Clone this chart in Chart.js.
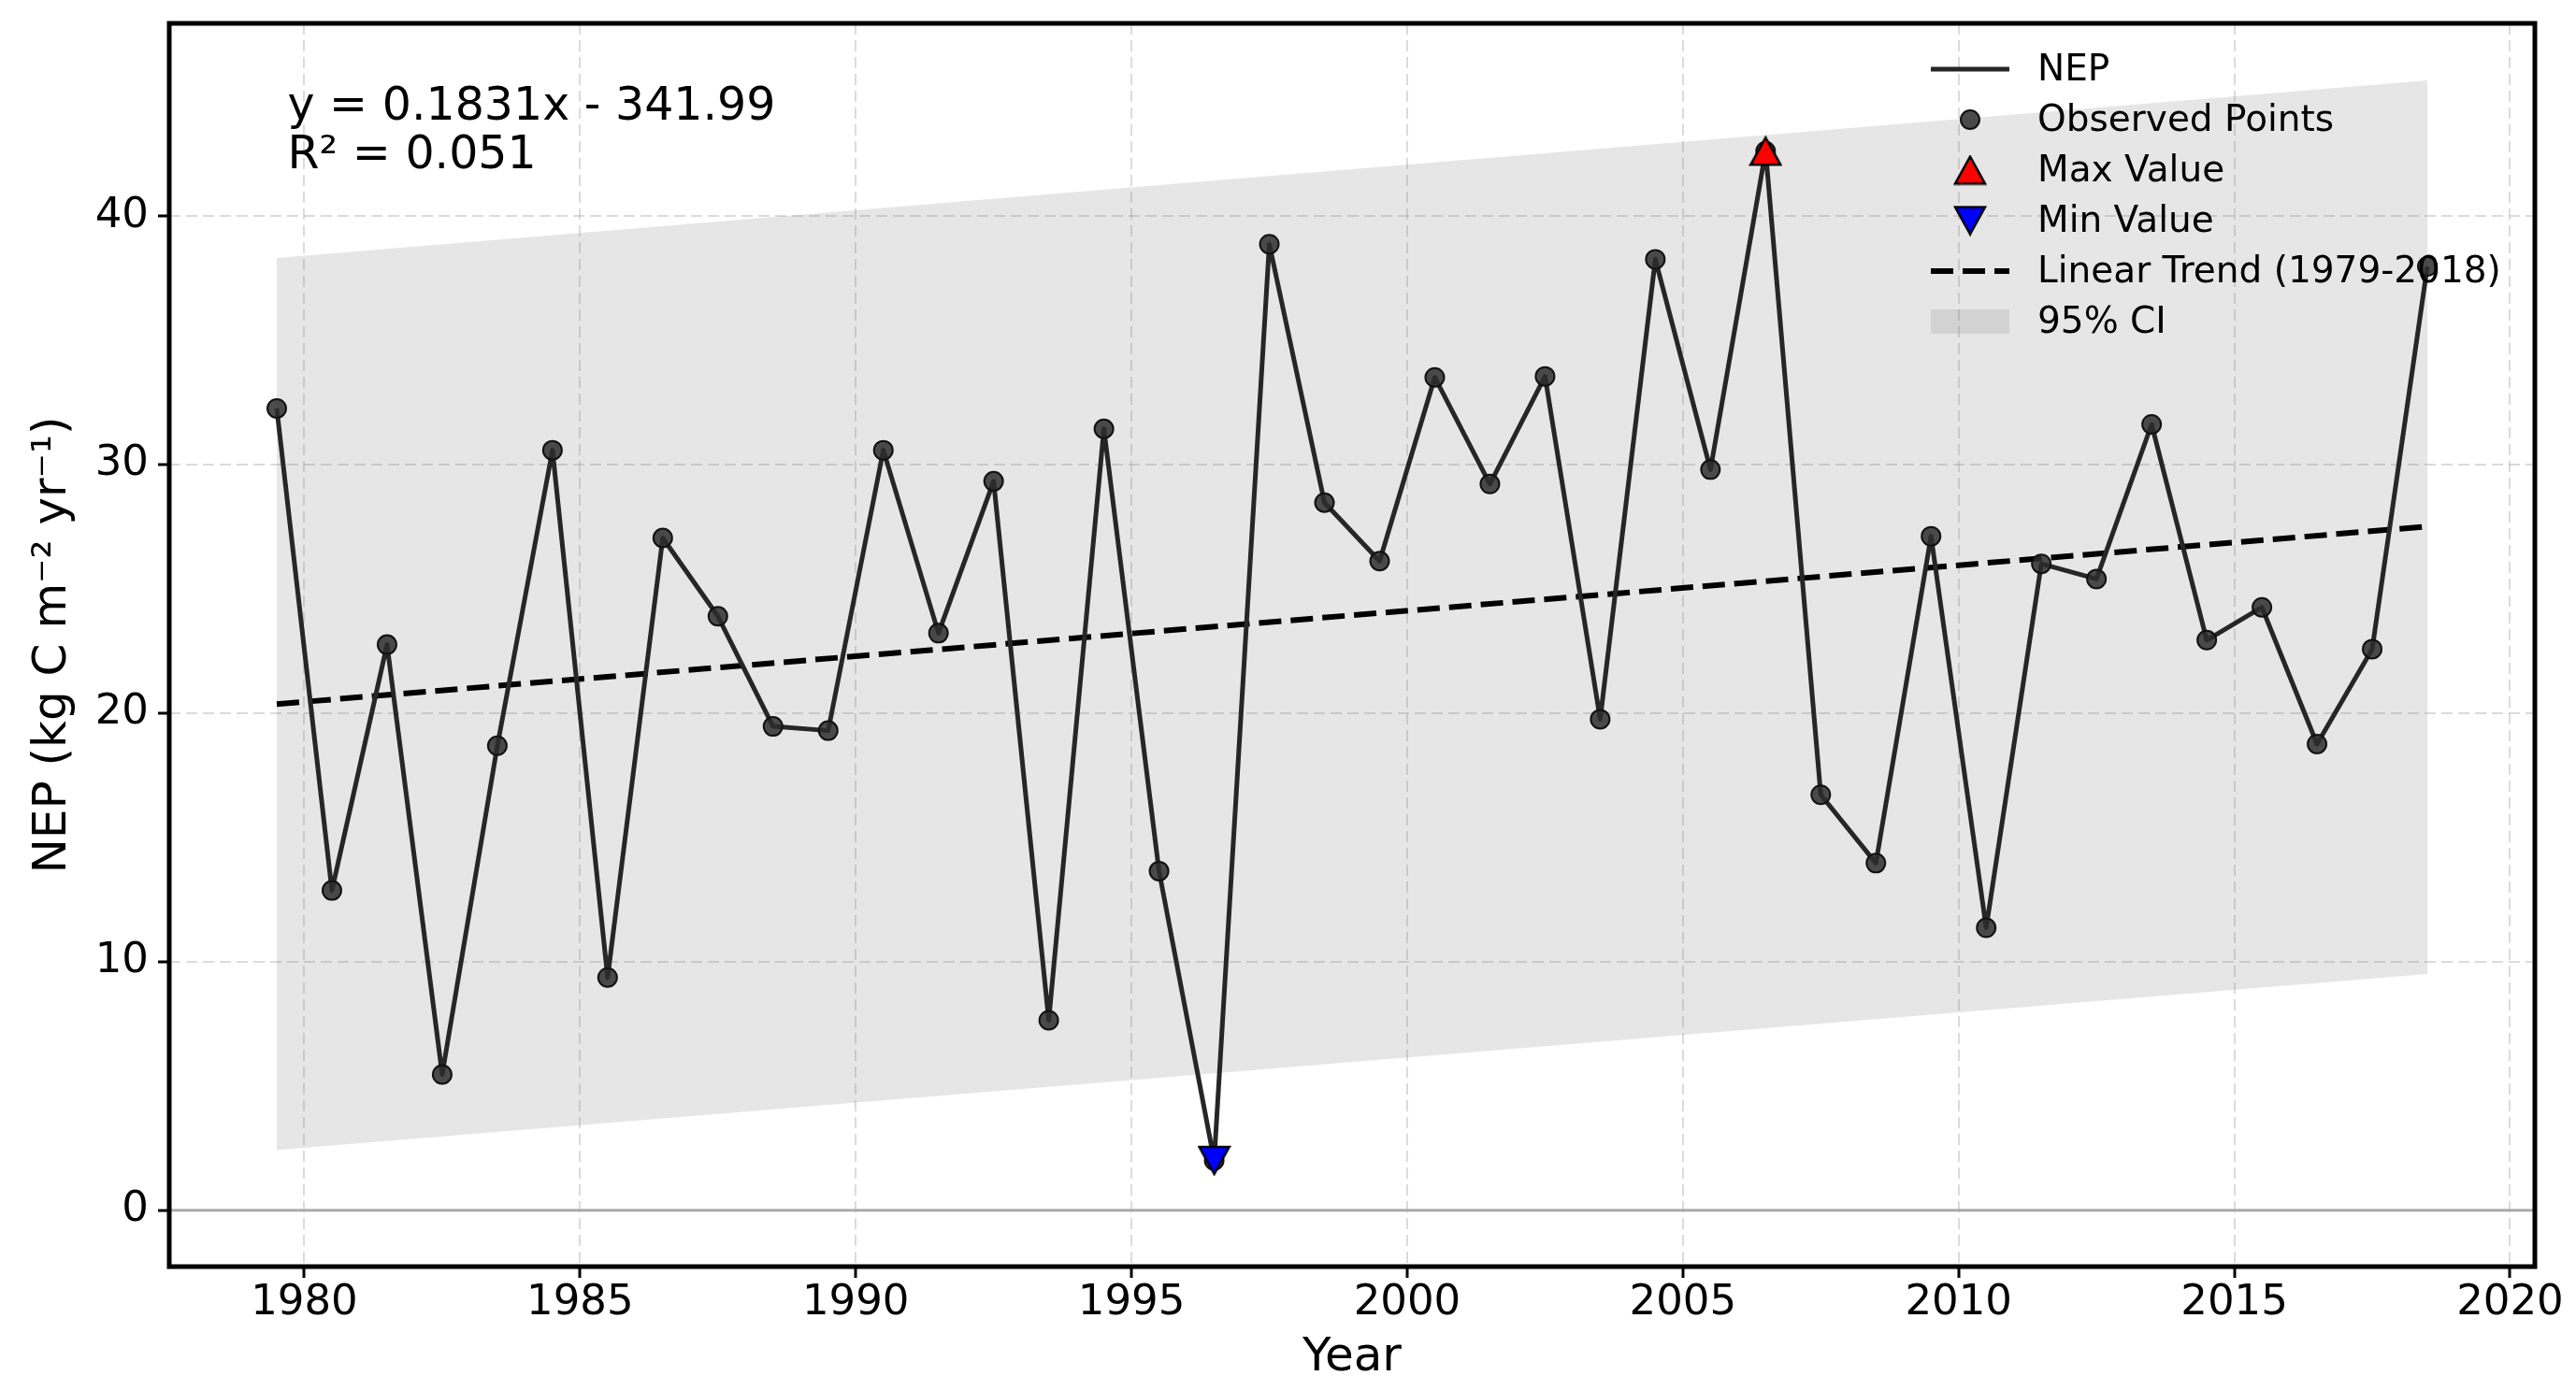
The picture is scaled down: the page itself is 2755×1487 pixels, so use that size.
<!DOCTYPE html>
<html>
<head>
<meta charset="utf-8">
<title>NEP 1979-2018</title>
<script src="https://cdn.jsdelivr.net/npm/chart.js@4.4.1/dist/chart.umd.min.js"></script>
<style>
    html, body { margin: 0; padding: 0; background: #fff; }
    #wrap { width: 2755px; height: 1487px; }
</style>
</head>
<body>
<div id="wrap"><canvas id="nepChart" width="2755" height="1487"></canvas></div>
<script>
// Data
const years = [
    1979, 1980, 1981, 1982, 1983, 1984, 1985, 1986, 1987, 1988,
    1989, 1990, 1991, 1992, 1993, 1994, 1995, 1996, 1997, 1998,
    1999, 2000, 2001, 2002, 2003, 2004, 2005, 2006, 2007, 2008,
    2009, 2010, 2011, 2012, 2013, 2014, 2015, 2016, 2017, 2018
];
const nepValues = [
    32.25, 12.86, 22.75, 5.46, 18.68, 30.57, 9.36, 27.04, 23.89, 19.46,
    19.29, 30.57, 23.21, 29.32, 7.64, 31.43, 13.64, 2.0, 38.86, 28.46,
    26.11, 33.5, 29.21, 33.54, 19.75, 38.25, 29.79, 42.6, 16.71, 13.96,
    27.11, 11.36, 26.0, 25.39, 31.61, 22.93, 24.25, 18.75, 22.57, 37.96
];
// trend and 95% CI band at the first and last year
const trendYears = [1979, 2018];
const trendValues = [20.36, 27.5];
const ciUpper = [38.3, 45.45];
const ciLower = [2.42, 9.5];

const xTicks = [1980, 1985, 1990, 1995, 2000, 2005, 2010, 2015, 2020];
const yTicks = [0, 10, 20, 30, 40];
const xLimits = [1977.55, 2020.45];
const yLimits = [-2.27, 47.74];

const equationLines = ['y = 0.1831x - 341.99', 'R\u00b2 = 0.051'];
const legendLabels = ['NEP', 'Observed Points', 'Max Value', 'Min Value', 'Linear Trend (1979-2018)', '95% CI'];

// points sit at mid-year
const midYear = yr => yr + 0.5;

const FONT = 'DejaVu Sans';
const lineColor = '#262626';
const pointFill = 'rgba(45, 45, 45, 0.85)';
const bandColor = 'rgba(128, 128, 128, 0.2)';
const gridColor = 'rgba(176, 176, 176, 0.45)';

function triangleMarker(fill, up) {
    const c = document.createElement('canvas');
    c.width = 36;
    c.height = 33;
    const g = c.getContext('2d');
    g.beginPath();
    if (up) {
        g.moveTo(18, 2); g.lineTo(2, 31); g.lineTo(34, 31);
    } else {
        g.moveTo(18, 31); g.lineTo(2, 2); g.lineTo(34, 2);
    }
    g.closePath();
    g.fillStyle = fill;
    g.fill();
    g.lineWidth = 2.5;
    g.strokeStyle = '#000';
    g.stroke();
    return c;
}

const maxMarker = triangleMarker('#ff0000', true);
const minMarker = triangleMarker('#0000ff', false);

const iMax = nepValues.indexOf(Math.max(...nepValues));
const iMin = nepValues.indexOf(Math.min(...nepValues));

const toPoints = (xs, ys) => xs.map((yr, i) => ({ x: midYear(yr), y: ys[i] }));

// keep the plot box where the layout padding puts it
const noScalePadding = axis => {
    axis.paddingTop = 0;
    axis.paddingBottom = 0;
    axis.paddingLeft = 0;
    axis.paddingRight = 0;
};

// background, zero line, frame, equation and legend
const decorations = {
    id: 'decorations',
    beforeDraw(chart) {
        const { ctx } = chart;
        ctx.save();
        ctx.fillStyle = '#fff';
        ctx.fillRect(0, 0, chart.width, chart.height);
        ctx.restore();
    },
    beforeDatasetsDraw(chart) {
        const { ctx, chartArea, scales } = chart;
        const y0 = scales.y.getPixelForValue(0);
        ctx.save();
        ctx.strokeStyle = '#ababab';
        ctx.lineWidth = 3;
        ctx.beginPath();
        ctx.moveTo(chartArea.left, y0);
        ctx.lineTo(chartArea.right, y0);
        ctx.stroke();
        ctx.restore();
    },
    afterDatasetsDraw(chart) {
        const { ctx, chartArea } = chart;
        const w = chartArea.right - chartArea.left;
        const h = chartArea.bottom - chartArea.top;
        ctx.save();

        // equation
        ctx.fillStyle = '#000';
        ctx.font = '49px "' + FONT + '"';
        ctx.textBaseline = 'alphabetic';
        ctx.textAlign = 'left';
        equationLines.forEach((txt, i) => {
            ctx.fillText(txt, chartArea.left + 0.05 * w, chartArea.top + 0.05 * h + 36 + i * 52);
        });

        // legend
        const hx0 = chartArea.right - 646;
        const hx1 = chartArea.right - 562;
        const hxc = (hx0 + hx1) / 2;
        const tx = chartArea.right - 532;
        legendLabels.forEach((label, i) => {
            const ly = chartArea.top + 49 + i * 54;
            ctx.save();
            if (i === 0 || i === 4) {
                ctx.strokeStyle = i === 0 ? lineColor : '#000';
                ctx.lineWidth = i === 0 ? 5 : 6;
                ctx.setLineDash(i === 0 ? [] : [24, 10]);
                ctx.beginPath();
                ctx.moveTo(hx0, ly);
                ctx.lineTo(hx1, ly);
                ctx.stroke();
            } else if (i === 1) {
                ctx.beginPath();
                ctx.arc(hxc, ly, 10, 0, Math.PI * 2);
                ctx.fillStyle = pointFill;
                ctx.fill();
                ctx.lineWidth = 2;
                ctx.strokeStyle = '#111';
                ctx.stroke();
            } else if (i === 2 || i === 3) {
                const m = i === 2 ? maxMarker : minMarker;
                ctx.drawImage(m, hxc - m.width / 2, ly - m.height / 2);
            } else {
                ctx.fillStyle = bandColor;
                ctx.fillRect(hx0, ly - 13, hx1 - hx0, 26);
            }
            ctx.restore();
            ctx.fillStyle = '#000';
            ctx.font = '39px "' + FONT + '"';
            ctx.textBaseline = 'middle';
            ctx.fillText(label, tx, ly + 2);
        });

        // axes frame
        ctx.strokeStyle = '#000';
        ctx.lineWidth = 5;
        ctx.strokeRect(chartArea.left, chartArea.top, w, h);
        ctx.restore();
    }
};

Chart.defaults.font.family = FONT;

new Chart(document.getElementById('nepChart'), {
    type: 'line',
    data: {
        datasets: [
            {
                label: 'Max Value',
                data: [{ x: midYear(years[iMax]), y: nepValues[iMax] }],
                showLine: false,
                pointStyle: maxMarker,
                pointRadius: 17
            },
            {
                label: 'Min Value',
                data: [{ x: midYear(years[iMin]), y: nepValues[iMin] }],
                showLine: false,
                pointStyle: minMarker,
                pointRadius: 17
            },
            {
                label: 'NEP',
                data: toPoints(years, nepValues),
                borderColor: lineColor,
                borderWidth: 5,
                borderJoinStyle: 'round',
                tension: 0,
                pointRadius: 10,
                pointBackgroundColor: pointFill,
                pointBorderColor: '#111',
                pointBorderWidth: 2
            },
            {
                label: 'Linear Trend (1979-2018)',
                data: toPoints(trendYears, trendValues),
                borderColor: '#000',
                borderWidth: 6,
                borderDash: [24, 10],
                pointRadius: 0
            },
            {
                label: '95% CI',
                data: toPoints(trendYears, ciUpper),
                borderColor: 'transparent',
                borderWidth: 0,
                pointRadius: 0,
                backgroundColor: bandColor,
                fill: '+1'
            },
            {
                label: 'CI lower',
                data: toPoints(trendYears, ciLower),
                borderColor: 'transparent',
                borderWidth: 0,
                pointRadius: 0,
                fill: false
            }
        ]
    },
    options: {
        responsive: false,
        animation: false,
        devicePixelRatio: 1,
        layout: { padding: { top: 25, right: 44, left: 0, bottom: 0 } },
        plugins: {
            legend: { display: false },
            tooltip: { enabled: false }
        },
        scales: {
            x: {
                type: 'linear',
                min: xLimits[0],
                max: xLimits[1],
                afterBuildTicks: axis => { axis.ticks = xTicks.map(v => ({ value: v })); },
                afterFit: axis => { axis.height = 132; noScalePadding(axis); },
                grid: { color: gridColor, lineWidth: 2, tickColor: '#000', tickLength: 12, tickWidth: 3, tickBorderDash: [] },
                border: { display: false, dash: [12, 6] },
                ticks: { color: '#000', font: { size: 45 }, padding: 0, maxRotation: 0, autoSkip: false, callback: v => String(v) },
                title: { display: true, text: 'Year', color: '#000', font: { size: 50 }, padding: { top: 0, bottom: 4 } }
            },
            y: {
                type: 'linear',
                min: yLimits[0],
                max: yLimits[1],
                afterBuildTicks: axis => { axis.ticks = yTicks.map(v => ({ value: v })); },
                afterFit: axis => { axis.width = 181; noScalePadding(axis); },
                grid: { color: gridColor, lineWidth: 2, tickColor: '#000', tickLength: 12, tickWidth: 3, tickBorderDash: [] },
                border: { display: false, dash: [12, 6] },
                ticks: { color: '#000', font: { size: 45 }, padding: 10, callback: v => String(v) },
                title: { display: true, text: 'NEP (kg C m\u207b\u00b2 yr\u207b\u00b9)', color: '#000', font: { size: 50 }, padding: { top: 27, bottom: 0 } }
            }
        }
    },
    plugins: [decorations]
});
</script>
</body>
</html>
